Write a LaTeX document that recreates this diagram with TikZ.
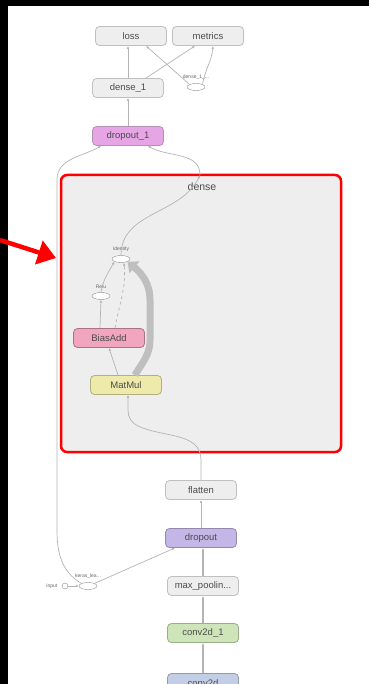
\documentclass[tikz,border=0pt]{standalone}
\usepackage{fontspec}
\setmainfont{Liberation Sans}
\usepackage{tikz}
\usetikzlibrary{arrows.meta, shapes.geometric}

\definecolor{boxgray}{HTML}{EEEEEE}
\definecolor{edgegray}{HTML}{B4B4B4}
\definecolor{pinkop}{HTML}{E6A6E6}
\definecolor{biasop}{HTML}{F1A5BE}
\definecolor{matop}{HTML}{EDEAAA}
\definecolor{dropop}{HTML}{C4B7E7}
\definecolor{convop}{HTML}{CDE5B8}
\definecolor{convzero}{HTML}{C3CEE6}

\begin{document}
\begin{tikzpicture}[x=1pt, y=-1pt, every node/.style={font=\fontsize{9.5}{11}\selectfont, text=black!70},
  >={Latex[length=3pt, width=2.5pt]},
  opnode/.style={draw=black!25, line width=0.8pt, rounded corners=4pt, fill=boxgray,
    minimum width=71pt, minimum height=19pt, inner sep=0pt},
  ellnode/.style={draw=black!45, fill=white, ellipse, minimum width=18pt, minimum height=7pt, inner sep=0pt},
  smalllabel/.style={font=\fontsize{5}{6}\selectfont, text=black!60},
  flow/.style={->, draw=edgegray, line width=0.7pt}]
\useasboundingbox (0,0) rectangle (369,684);
\fill[white] (0,0) rectangle (369,684);
\fill[black] (0,0) rectangle (8,684);
\fill[black] (0,0) rectangle (369,6);

% dense group
\draw[red, line width=2.5pt, fill=boxgray, rounded corners=6pt] (61,175) rectangle (341,452);
\node[font=\fontsize{10.5}{12}\selectfont] (densetitle) at (202,187) {dense};
\coordinate (densetop) at (200,175);
\coordinate (densebot) at (201,452);

% nodes
\node[opnode] (loss) at (131,36) {loss};
\node[opnode] (metrics) at (208,36) {metrics};
\node[opnode] (dense1) at (128,88) {dense\_1};
\node[ellnode] (dense1y) at (196,87) {};
\node[smalllabel, above=0pt] at (dense1y.north) {dense\_1\_...};
\node[opnode, fill=pinkop, draw=pinkop!70!black!80] (dropout1) at (128,136) {dropout\_1};
\node[ellnode] (identity) at (121,259) {};
\node[smalllabel, above=0pt] at (identity.north) {Identity};
\node[ellnode] (relu) at (101,296) {};
\node[smalllabel, above=0pt] at (relu.north) {Relu};
\node[opnode, fill=biasop, draw=biasop!70!black] (biasadd) at (109,338) {BiasAdd};
\node[opnode, fill=matop, draw=matop!75!black] (matmul) at (126,385) {MatMul};
\node[opnode] (flatten) at (201,490) {flatten};
\node[opnode, fill=dropop, draw=dropop!75!black] (dropout) at (201,538) {dropout};
\node[opnode] (maxpool) at (203,586) {max\_poolin...};
\node[opnode, fill=convop, draw=convop!75!black] (conv1) at (203,633) {conv2d\_1};
\node[opnode, fill=convzero, draw=convzero!75!black] (conv0) at (203,683) {conv2d};
\node[ellnode] (keras) at (88,586) {};
\node[smalllabel, above=0pt] at (keras.north) {keras\_lea...};
\node[circle, draw=black!45, fill=white, minimum size=6pt, inner sep=0pt] (inputpt) at (65,586) {};
\node[smalllabel, left=1pt] at (inputpt.west) {input};

% connectors
\draw[flow] (dense1.north) -- (loss.south -| dense1.north);
\draw[flow] ([xshift=18pt]dense1.north) -- ([xshift=-13pt]metrics.south);
\draw[flow] (dense1y.north west) -- ([xshift=15pt]loss.south);
\draw[flow] (dense1y.north east) to[out=80, in=-95] ([xshift=5pt]metrics.south);
\draw[flow] (dropout1.north) -- (dense1.south);
\draw[flow] (densetop) to[out=90, in=-30] ([xshift=20pt]dropout1.south);
\draw[flow] (keras.north west) to[out=150, in=-90] (57,530) -- (57,180) to[out=90, in=-150] ([xshift=-27pt]dropout1.south);
\draw[flow] (keras.north east) -- ([xshift=-26pt]dropout.south);
\draw[flow] (inputpt.east) -- (keras.west);
\draw[flow] (identity.north) to[out=90, in=-115] (densetop);
\draw[flow] (relu.north) to[out=80, in=-120] (identity.south west);
\draw[flow] ([xshift=-9pt]biasadd.north) -- (relu.south);
\draw[flow, dashed] ([xshift=6pt]biasadd.north) to[out=80, in=-85] ([xshift=3pt]identity.south);
\draw[flow] ([xshift=-8pt]matmul.north) -- (biasadd.south);
\draw[->, draw=black!25, line width=7pt, >={Triangle[length=9pt, width=15pt]}]
  ([xshift=9pt]matmul.north) to[out=60, in=-90] (150,340) -- (150,300) to[out=90, in=-40] (identity.south east);
\draw[flow] (flatten.north) -- (201,460) to[out=90, in=-25] (138,426) to[out=155, in=-90] (128,410) -- (matmul.south -| 128,0);
\draw[flow] (dropout.north) -- (flatten.south);
\draw[flow, line width=1.5pt] (maxpool.north) -- ([xshift=2pt]dropout.south);
\draw[flow, line width=1.5pt] (conv1.north) -- (maxpool.south);
\draw[flow, line width=1.5pt] (conv0.north) -- (conv1.south);

% pointer
\draw[red, line width=4.5pt, -{Triangle[length=18pt, width=24pt]}] (0,240) -- (56,258);
\end{tikzpicture}
\end{document}
